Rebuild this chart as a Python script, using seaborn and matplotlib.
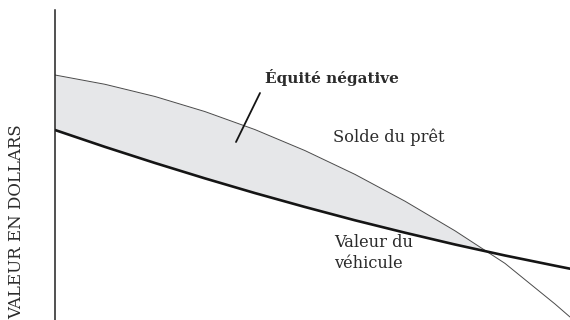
import matplotlib
matplotlib.use("Agg")
import matplotlib.pyplot as plt
import numpy as np
import pandas as pd
import seaborn as sns

# values (arbitrary units, time on x, dollars on y)
temps = [0, 50, 100, 150, 200, 250, 300, 350, 400, 450, 500, 515]
solde_pret = [245, 235.7, 223.5, 208.4, 190.4, 169.4, 145.6, 118.8, 89.2, 56.6, 16, 3]
valeur_vehicule = [190, 173.1, 157, 141.6, 126.9, 113, 99.7, 87.3, 75.5, 64.5, 54.3, 51.3]

sns.set_style("white")
plt.rcParams["font.family"] = ["DejaVu Serif"]

df = pd.DataFrame({"temps": temps, "pret": solde_pret, "vehicule": valeur_vehicule})

fig = plt.figure(figsize=(5.7, 3.2), dpi=100)
ax = fig.add_axes([55 / 570, 0, 515 / 570, 310 / 320])

# shaded negative equity zone
ax.fill_between(df["temps"], df["pret"], df["vehicule"],
                where=df["pret"] >= df["vehicule"], interpolate=True,
                color="#e6e7e9", lw=0)
sns.lineplot(data=df, x="temps", y="pret", ax=ax, color="#4a4a4a", lw=0.7)
sns.lineplot(data=df, x="temps", y="vehicule", ax=ax, color="#151515", lw=1.9)

ax.set_xlim(0, 515)
ax.set_ylim(0, 310)
ax.set_xticks([])
ax.set_yticks([])
ax.set_xlabel("")
ax.set_ylabel("")
for side in ["top", "right", "bottom"]:
    ax.spines[side].set_visible(False)
ax.spines["left"].set_linewidth(1.1)
ax.spines["left"].set_color("#222222")

txt = "#2b2b2b"
ax.text(210, 242, "Équité négative", fontsize=11, fontweight="bold",
        color=txt, va="center", ha="left")
ax.plot([205, 181], [227, 178], color="#151515", lw=1.3)
ax.text(278, 183, "Solde du prêt", fontsize=11.7, color=txt, va="center", ha="left")
ax.text(279, 67, "Valeur du\nvéhicule", fontsize=11.7, color=txt,
        va="center", ha="left", linespacing=1.25)

fig.text(17 / 570, 1 - 222 / 320, "VALEUR EN DOLLARS", rotation=90,
         fontsize=12, color=txt, ha="center", va="center")

fig.savefig("out.png", dpi=100)
